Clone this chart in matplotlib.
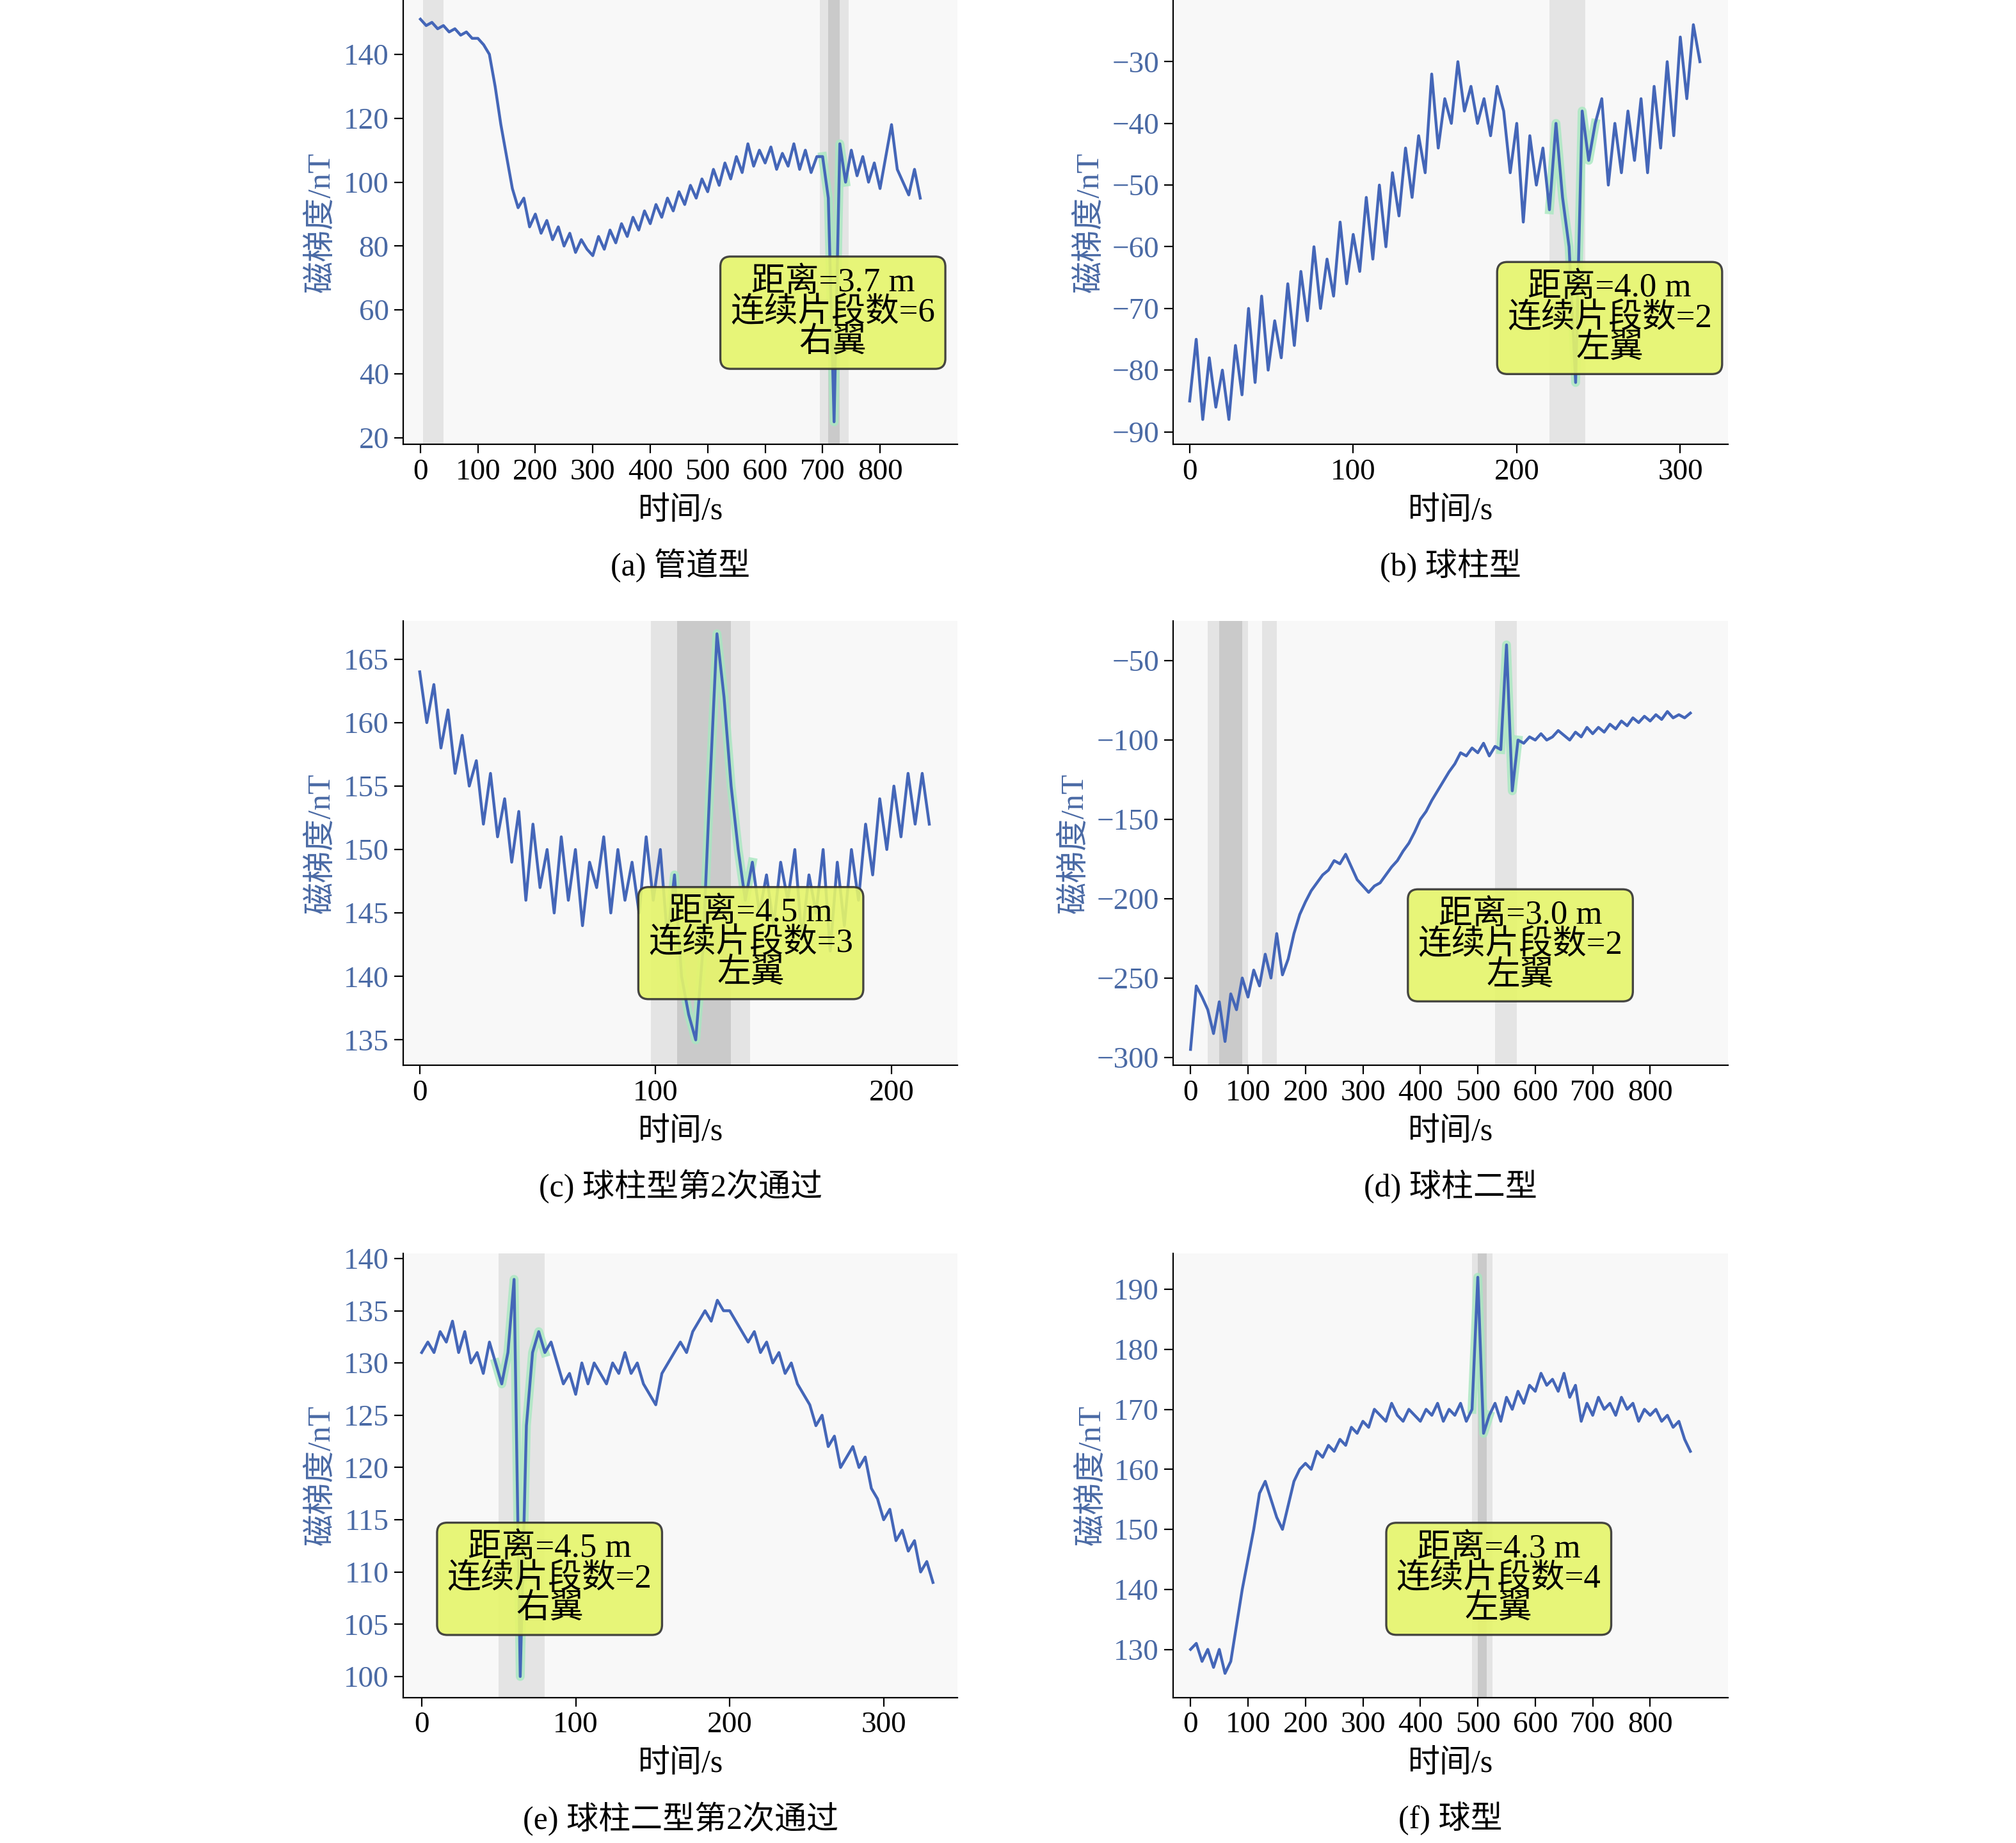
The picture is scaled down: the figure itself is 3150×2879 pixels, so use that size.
import numpy as np
import matplotlib
matplotlib.use('Agg')
import matplotlib.pyplot as plt

plt.rcParams['font.family'] = ['Liberation Serif', 'Noto Sans CJK SC']
plt.rcParams['axes.unicode_minus'] = True

# ---- data ----
a_tmax = 870
a_vals = [151, 149, 150, 148, 149, 147, 148, 146, 147, 145,
          145, 143, 140, 130, 118, 108, 98, 92, 95, 86,
          90, 84, 88, 82, 86, 80, 84, 78, 82, 79,
          77, 83, 79, 85, 81, 87, 83, 89, 85, 91,
          87, 93, 89, 95, 91, 97, 93, 99, 95, 101,
          97, 104, 99, 106, 101, 108, 103, 112, 105, 110,
          106, 111, 104, 109, 105, 112, 104, 110, 103, 108,
          108, 95, 25, 112, 100, 110, 102, 108, 100, 106,
          98, 108, 118, 104, 100, 96, 104, 95]
b_tmax = 312
b_vals = [-85, -75, -88, -78, -86, -80, -88, -76, -84, -70,
          -82, -68, -80, -72, -78, -66, -76, -64, -72, -60,
          -70, -62, -68, -56, -66, -58, -64, -52, -62, -50,
          -60, -48, -55, -44, -52, -42, -48, -32, -44, -36,
          -40, -30, -38, -34, -40, -36, -42, -34, -38, -48,
          -40, -56, -42, -50, -44, -54, -40, -52, -60, -82,
          -38, -46, -40, -36, -50, -40, -48, -38, -46, -36,
          -48, -34, -44, -30, -42, -26, -36, -24, -30]
c_tmax = 216
c_vals = [164, 160, 163, 158, 161, 156, 159, 155, 157, 152,
          156, 151, 154, 149, 153, 146, 152, 147, 150, 145,
          151, 146, 150, 144, 149, 147, 151, 145, 150, 146,
          149, 145, 151, 146, 150, 143, 148, 140, 137, 135,
          142, 155, 167, 162, 155, 150, 146, 149, 145, 148,
          144, 149, 146, 150, 143, 148, 145, 150, 142, 149,
          144, 150, 146, 152, 148, 154, 150, 155, 151, 156, 152, 156, 152]
d_tmax = 870
d_vals = [-295, -255, -262, -270, -285, -265, -290, -260, -270, -250,
          -262, -245, -255, -235, -250, -222, -248, -238, -222, -210,
          -202, -195, -190, -185, -182, -176, -178, -172, -180, -188,
          -192, -196, -192, -190, -185, -180, -176, -170, -165, -158,
          -150, -145, -138, -132, -126, -120, -115, -108, -110, -105,
          -108, -102, -110, -104, -106, -40, -132, -100, -102, -98,
          -100, -96, -100, -98, -94, -97, -100, -95, -98, -92,
          -96, -92, -95, -90, -93, -88, -91, -86, -89, -85,
          -88, -84, -87, -82, -86, -84, -86, -83]
e_tmax = 332
e_vals = [131, 132, 131, 133, 132, 134, 131, 133, 130, 131,
          129, 132, 130, 128, 131, 138, 100, 124, 131, 133,
          131, 132, 130, 128, 129, 127, 130, 128, 130, 129,
          128, 130, 129, 131, 129, 130, 128, 127, 126, 129,
          130, 131, 132, 131, 133, 134, 135, 134, 136, 135,
          135, 134, 133, 132, 133, 131, 132, 130, 131, 129,
          130, 128, 127, 126, 124, 125, 122, 123, 120, 121,
          122, 120, 121, 118, 117, 115, 116, 113, 114, 112,
          113, 110, 111, 109]
f_tmax = 870
f_vals = [130, 131, 128, 130, 127, 130, 126, 128, 134, 140,
          145, 150, 156, 158, 155, 152, 150, 154, 158, 160,
          161, 160, 163, 162, 164, 163, 165, 164, 167, 166,
          168, 167, 170, 169, 168, 171, 169, 168, 170, 169,
          168, 170, 169, 171, 168, 170, 169, 171, 168, 170,
          192, 166, 169, 171, 168, 172, 170, 173, 171, 174,
          173, 176, 174, 175, 173, 176, 172, 174, 168, 171,
          169, 172, 170, 171, 169, 172, 170, 171, 168, 170,
          169, 170, 168, 169, 167, 168, 165, 163]

panels = [
    dict(tmax=a_tmax, vals=a_vals, cap='(a) 管道型', txt='距离=3.7 m\n连续片段数=6\n右翼',
         light=[(5, 40), (695, 745)], dark=[(710, 730)], seg=(700, 740),
         xt=[0, 100, 200, 300, 400, 500, 600, 700, 800], yt=[20, 40, 60, 80, 100, 120, 140],
         ylim=(18, 157), xlim=(-30, 935), box=(0.775, 0.296)),
    dict(tmax=b_tmax, vals=b_vals, cap='(b) 球柱型', txt='距离=4.0 m\n连续片段数=2\n左翼',
         light=[(220, 242)], dark=[], seg=(225, 240),
         xt=[0, 100, 200, 300], yt=[-90, -80, -70, -60, -50, -40, -30],
         ylim=(-92, -20), xlim=(-10, 329), box=(0.787, 0.284)),
    dict(tmax=c_tmax, vals=c_vals, cap='(c) 球柱型第2次通过', txt='距离=4.5 m\n连续片段数=3\n左翼',
         light=[(98, 140)], dark=[(109, 132)], seg=(112, 135),
         xt=[0, 100, 200], yt=[135, 140, 145, 150, 155, 160, 165],
         ylim=(133, 168), xlim=(-7, 228), box=(0.627, 0.275)),
    dict(tmax=d_tmax, vals=d_vals, cap='(d) 球柱二型', txt='距离=3.0 m\n连续片段数=2\n左翼',
         light=[(30, 100), (125, 150), (530, 568)], dark=[(50, 90)], seg=(540, 565),
         xt=[0, 100, 200, 300, 400, 500, 600, 700, 800], yt=[-300, -250, -200, -150, -100, -50],
         ylim=(-305, -25), xlim=(-30, 935), box=(0.626, 0.27)),
    dict(tmax=e_tmax, vals=e_vals, cap='(e) 球柱二型第2次通过', txt='距离=4.5 m\n连续片段数=2\n右翼',
         light=[(50, 72), (72, 80)], dark=[], seg=(55, 72),
         xt=[0, 100, 200, 300], yt=[100, 105, 110, 115, 120, 125, 130, 135, 140],
         ylim=(98, 140.5), xlim=(-12, 348), box=(0.264, 0.267)),
    dict(tmax=f_tmax, vals=f_vals, cap='(f) 球型', txt='距离=4.3 m\n连续片段数=4\n左翼',
         light=[(490, 525)], dark=[(500, 515)], seg=(495, 520),
         xt=[0, 100, 200, 300, 400, 500, 600, 700, 800], yt=[130, 140, 150, 160, 170, 180, 190],
         ylim=(122, 196), xlim=(-30, 935), box=(0.587, 0.267)),
]

fig = plt.figure(figsize=(15.75, 14.395), dpi=200)
lefts = [0.200, 0.582]
bottoms = [0.759, 0.422, 0.079]
w, h = 0.275, 0.241
blue = '#4466b8'
tickblue = '#4a6aa5'

for i, p in enumerate(panels):
    ax = fig.add_axes([lefts[i % 2], bottoms[i // 2], w, h])
    ax.set_facecolor('#f8f8f8')
    t = np.linspace(0, p['tmax'], len(p['vals']))
    v = np.array(p['vals'])
    for lo, hi in p['light']:
        ax.axvspan(lo, hi, color='#dcdcdc', alpha=0.7, lw=0)
    for lo, hi in p['dark']:
        ax.axvspan(lo, hi, color='#c4c4c4', alpha=0.8, lw=0)
    m = (t >= p['seg'][0] - 8) & (t <= p['seg'][1] + 8)
    ax.plot(t[m], v[m], color='#a8e8c0', lw=5, alpha=0.8)
    ax.plot(t, v, color=blue, lw=1.6)
    ax.set_xlim(*p['xlim'])
    ax.set_ylim(*p['ylim'])
    ax.set_xticks(p['xt'])
    ax.set_yticks(p['yt'])
    ax.tick_params(axis='both', labelsize=17, length=5, pad=3)
    ax.tick_params(axis='y', labelcolor=tickblue)
    for s in ['top', 'right']:
        ax.spines[s].set_visible(False)
    ax.set_xlabel('时间/s', fontsize=18, labelpad=6)
    ax.set_ylabel('磁梯度/nT', fontsize=18, color=tickblue)
    ax.text(0.5, -0.235, p['cap'], transform=ax.transAxes, ha='center', va='top', fontsize=18)
    ax.text(p['box'][0], p['box'][1], p['txt'], transform=ax.transAxes, ha='center', va='center',
            fontsize=19, linespacing=0.95,
            bbox=dict(boxstyle='round,pad=0.3', fc='#e6f56a', ec='#333333', lw=1.2, alpha=0.9))

fig.savefig('out.png')
